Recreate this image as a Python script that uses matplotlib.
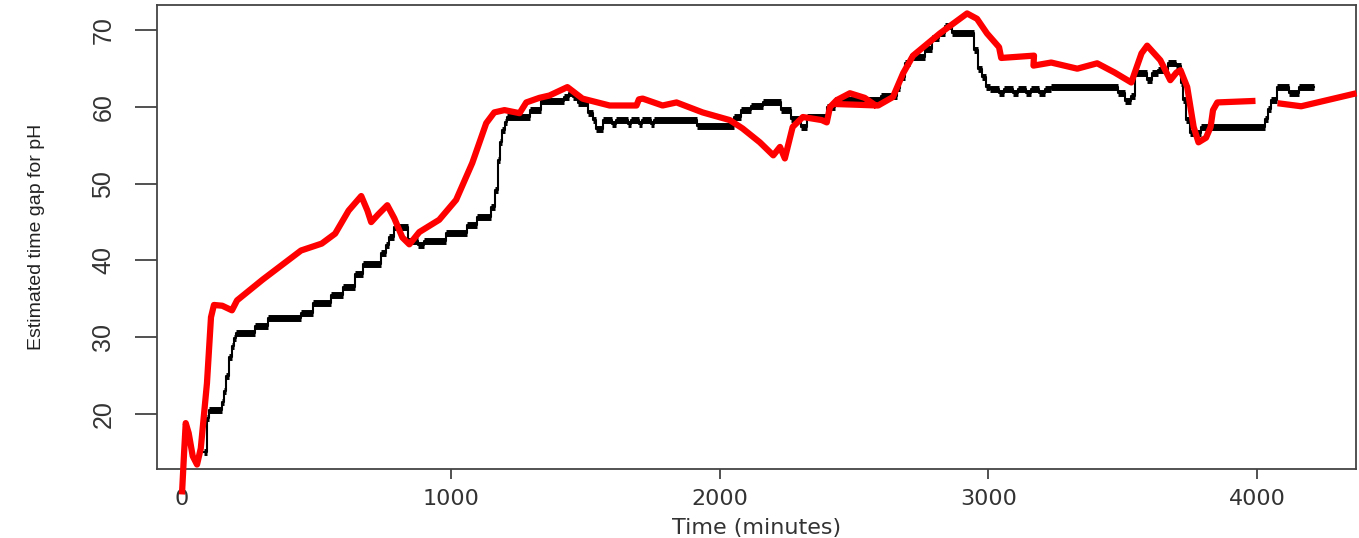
import numpy as np
import matplotlib
matplotlib.use("Agg")
import matplotlib.pyplot as plt

# -----------------------------
# data
# -----------------------------
# black: stepwise estimated gap, (time, value) at each step start
step_time = [82, 92, 100, 148, 155, 165, 175, 185, 194, 201, 272, 320, 443, 488,
             555, 598, 645, 672, 740, 760, 771, 790, 840, 880, 900, 984, 1062,
             1099, 1150, 1166, 1177, 1185, 1192, 1200, 1211, 1296, 1334, 1420,
             1440, 1455, 1472, 1510, 1530, 1540, 1565, 1600, 1615, 1660, 1672,
             1700, 1712, 1745, 1758, 1918, 2053, 2079, 2116, 2161, 2227, 2265,
             2302, 2325, 2399, 2429, 2600, 2660, 2672, 2690, 2708, 2765, 2790,
             2815, 2840, 2865, 2945, 2962, 2976, 2990, 3005, 3040, 3060, 3090,
             3110, 3140, 3160, 3190, 3210, 3234, 3483, 3510, 3530, 3545, 3590,
             3610, 3633, 3670, 3700, 3718, 3725, 3735, 3750, 3790, 4030, 4040,
             4050, 4075, 4120, 4155, 4210]
step_value = [15.0, 19.5, 20.5, 21.5, 23.0, 25.0, 27.4, 28.8, 29.9, 30.5, 31.5,
              32.5, 33.2, 34.5, 35.5, 36.5, 38.3, 39.6, 41.0, 42.0, 43.0, 44.4,
              42.5, 42.0, 42.5, 43.6, 44.6, 45.7, 47.0, 49.2, 53.1, 55.5, 57.0,
              58.0, 58.7, 59.6, 60.8, 61.3, 61.8, 61.3, 60.5, 59.2, 58.3, 57.2,
              58.3, 57.8, 58.3, 57.8, 58.3, 57.8, 58.3, 57.8, 58.3, 57.5, 58.7,
              59.6, 60.2, 60.6, 59.6, 58.5, 57.4, 58.7, 60.0, 60.9, 61.5, 62.5,
              63.9, 65.7, 66.5, 67.6, 69.0, 69.7, 70.5, 69.6, 67.4, 65.0, 63.9,
              62.6, 62.3, 61.8, 62.3, 61.8, 62.3, 61.8, 62.3, 61.8, 62.3, 62.6,
              61.8, 60.8, 61.5, 64.4, 63.5, 64.5, 64.8, 65.7, 65.3, 63.1, 60.9,
              58.3, 56.6, 57.4, 58.5, 59.8, 60.9, 62.6, 61.8, 62.6, 62.6]

# red: smoothed estimate, NaN splits the pieces
smooth_time = [0, 8, 14, 25, 40, 56, 70, 93, 108, 119, 150, 186, 205, 300, 443,
               520, 570, 620, 667, 690, 704, 730, 764, 790, 820, 846, 883, 957,
               1020, 1080, 1132, 1162, 1200, 1256, 1281, 1330, 1367, 1434, 1490,
               1591, 1691, 1700, 1714, 1788, 1840, 1937, 2038, 2086, 2150, 2200,
               2225, 2243, 2272, 2310, 2380, 2399, 2411, 2436, 2485, 2540, 2585,
               np.nan,
               2425, 2510, 2590, 2645, 2683, 2720, 2820, 2921, 2958, 2995, 3040,
               3048, 3170, 3168, 3234, 3331, 3405, 3470, 3532, 3545, 3570, 3591,
               3640, 3677, 3700, 3715, 3740, 3764, 3782, 3810, 3827, 3836, 3852,
               3994,
               np.nan,
               4076, 4164, 4370]
smooth_value = [9.5, 15.0, 18.8, 17.5, 14.5, 13.4, 15.5, 24.0, 32.6, 34.2, 34.1,
                33.5, 34.8, 37.5, 41.3, 42.2, 43.5, 46.5, 48.4, 46.5, 45.0, 46.0,
                47.2, 45.5, 43.0, 42.1, 43.7, 45.3, 47.9, 52.7, 57.9, 59.3, 59.6,
                59.2, 60.6, 61.2, 61.5, 62.6, 61.1, 60.2, 60.2, 61.0, 61.1, 60.2,
                60.6, 59.3, 58.3, 57.2, 55.4, 53.7, 54.8, 53.3, 57.4, 58.7, 58.3,
                58.0, 60.0, 60.9, 61.8, 61.2, 60.1,
                np.nan,
                60.4, 60.3, 60.2, 61.3, 64.4, 66.7, 69.6, 72.2, 71.5, 69.6, 67.8,
                66.4, 66.7, 65.4, 65.8, 65.0, 65.7, 64.5, 63.2, 64.5, 67.0, 68.0,
                66.1, 63.5, 64.5, 64.8, 62.6, 57.4, 55.4, 56.0, 57.4, 59.6, 60.6,
                60.8,
                np.nan,
                60.5, 60.1, 61.8]

x_ticks = [0, 1000, 2000, 3000, 4000]
y_ticks = [20, 30, 40, 50, 60, 70]

# -----------------------------
# plot
# -----------------------------
narrow = ["Liberation Sans Narrow", "Liberation Sans", "DejaVu Sans"]

fig = plt.figure(figsize=(13.59, 5.38), dpi=100)
ax = fig.add_axes([0.1155, 0.128, 0.8823, 0.8627])

st = np.asarray(step_time, dtype=float)
sv = np.asarray(step_value, dtype=float)

# thin step line + thick horizontal runs (the blocky look of the original)
ax.step(st, sv, where="post", color="black", lw=1.5)
ax.hlines(sv[:-1], st[:-1], st[1:], color="black", lw=5)

ax.plot(smooth_time, smooth_value, color="#ff0000", lw=4.5,
        solid_capstyle="butt", clip_on=False, zorder=3)

ax.set_xlim(-93, 4368)
ax.set_ylim(12.8, 73.3)

ax.set_xticks(x_ticks)
ax.set_yticks(y_ticks)
ax.tick_params(axis="x", length=7, width=1.2, color="#333333",
               labelsize=16, pad=7, labelcolor="#333333")
ax.tick_params(axis="y", length=16, width=1.2, color="#333333",
               labelsize=18, pad=14, labelcolor="#333333")
for lab in ax.get_yticklabels():
    lab.set_rotation(90)
    lab.set_va("center")
    lab.set_family(narrow)

for sp in ax.spines.values():
    sp.set_color("#444444")
    sp.set_linewidth(1.3)

ax.set_xlabel("Time (minutes)", fontsize=16, color="#333333", labelpad=7)
ax.set_ylabel("Estimated time gap for pH", fontsize=14, color="#222222",
              labelpad=33, family=narrow)

fig.savefig("out.png", dpi=100)
plt.close(fig)
